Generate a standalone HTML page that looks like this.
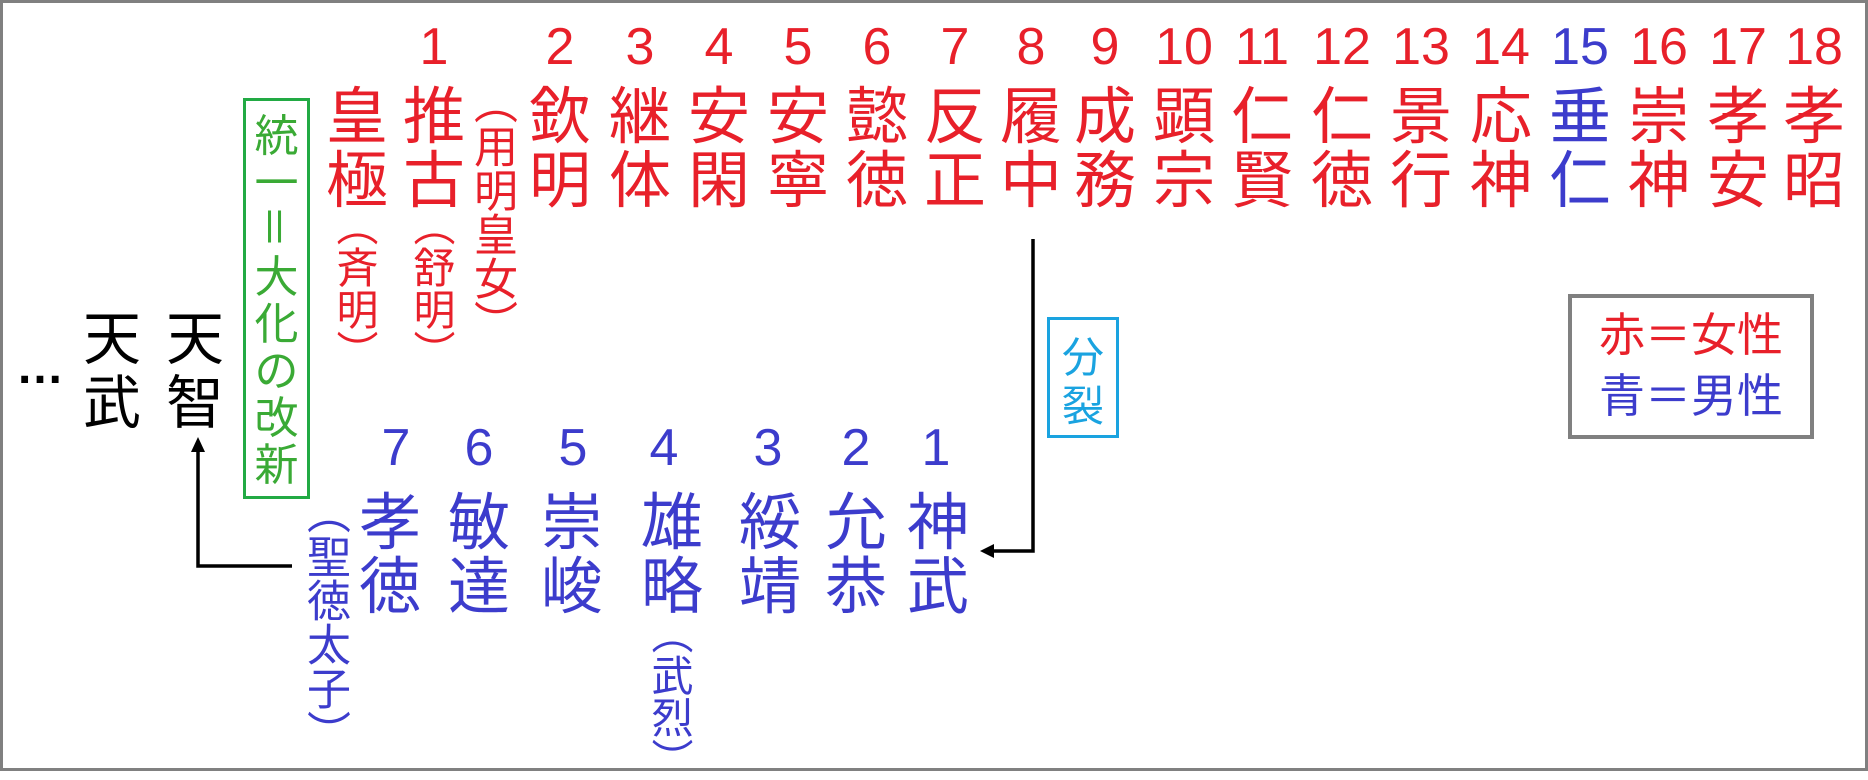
<!DOCTYPE html>
<html><head><meta charset="utf-8"><style>
body{margin:0;width:1868px;height:771px;overflow:hidden;background:#fff}
#f{position:absolute;left:0;top:0;width:1862px;height:765px;border:3px solid #808080;background:#fff}
.t{position:absolute;font-family:"Liberation Sans","Noto Sans CJK JP",sans-serif;transform:translateX(-50%);text-align:center;white-space:nowrap}
.n{font-size:52px;line-height:52px;top:21px;color:#e8202a}
.k{font-size:62px;line-height:64px;top:86px;color:#e8202a}
.b{color:#3c3ccc}
.bn{top:422px}
.bk{top:492px}
.v{writing-mode:vertical-rl;font-family:"Noto Sans CJK JP",sans-serif;line-height:1}
.blk{color:#000}
</style></head><body><div id="f"></div>

<div class="t n" style="left:434px">1</div>
<div class="t n" style="left:560px">2</div>
<div class="t n" style="left:640px">3</div>
<div class="t n" style="left:719px">4</div>
<div class="t n" style="left:798px">5</div>
<div class="t n" style="left:877px">6</div>
<div class="t n" style="left:955px">7</div>
<div class="t n" style="left:1031px">8</div>
<div class="t n" style="left:1105px">9</div>
<div class="t n" style="left:1184px">10</div>
<div class="t n" style="left:1262px">11</div>
<div class="t n" style="left:1342px">12</div>
<div class="t n" style="left:1421px">13</div>
<div class="t n" style="left:1501px">14</div>
<div class="t n b" style="left:1580px">15</div>
<div class="t n" style="left:1659px">16</div>
<div class="t n" style="left:1738px">17</div>
<div class="t n" style="left:1814px">18</div>

<div class="t k" style="left:357px">皇<br>極</div>
<div class="t k" style="left:434px">推<br>古</div>
<div class="t k" style="left:560px">欽<br>明</div>
<div class="t k" style="left:640px">継<br>体</div>
<div class="t k" style="left:719px">安<br>閑</div>
<div class="t k" style="left:798px">安<br>寧</div>
<div class="t k" style="left:877px">懿<br>徳</div>
<div class="t k" style="left:955px">反<br>正</div>
<div class="t k" style="left:1031px">履<br>中</div>
<div class="t k" style="left:1105px">成<br>務</div>
<div class="t k" style="left:1184px">顕<br>宗</div>
<div class="t k" style="left:1262px">仁<br>賢</div>
<div class="t k" style="left:1342px">仁<br>徳</div>
<div class="t k" style="left:1421px">景<br>行</div>
<div class="t k" style="left:1501px">応<br>神</div>
<div class="t k b" style="left:1580px">垂<br>仁</div>
<div class="t k" style="left:1659px">崇<br>神</div>
<div class="t k" style="left:1738px">孝<br>安</div>
<div class="t k" style="left:1814px">孝<br>昭</div>

<div class="t v" style="left:357px;top:204px;font-size:42px;color:#e8202a">（斉明）</div>
<div class="t v" style="left:434px;top:204px;font-size:42px;color:#e8202a">（舒明）</div>
<div class="t v" style="left:496px;top:80px;font-size:44px;color:#e8202a">（用明皇女）</div>
<div class="t v" style="left:329px;top:490px;font-size:44px;color:#3c3ccc">（聖徳太子）</div>
<div class="t v" style="left:672px;top:612px;font-size:42px;color:#3c3ccc">（武烈）</div>

<div style="position:absolute;left:243px;top:98px;width:61px;height:395px;border:3px solid #22aa44"></div>
<div style="position:absolute;left:243px;top:109px;width:67px;font-family:'Noto Sans CJK JP',sans-serif;font-size:44px;line-height:47px;color:#3aaa35;text-align:center">
<div>統</div><div>一</div><div style="transform:rotate(90deg)">＝</div><div>大</div><div>化</div><div>の</div><div>改</div><div>新</div></div>

<div class="t blk" style="left:40px;top:340px;font-size:48px;font-weight:bold;font-family:'Liberation Sans',sans-serif">…</div>
<div class="t blk" style="left:112px;top:302px;font-size:58px;line-height:64px;font-family:'Noto Sans CJK JP',sans-serif">天<br>武</div>
<div class="t blk" style="left:195px;top:302px;font-size:58px;line-height:64px;font-family:'Noto Sans CJK JP',sans-serif">天<br>智</div>

<div class="t n b bn" style="left:396px">7</div>
<div class="t n b bn" style="left:479px">6</div>
<div class="t n b bn" style="left:573px">5</div>
<div class="t n b bn" style="left:664px">4</div>
<div class="t n b bn" style="left:768px">3</div>
<div class="t n b bn" style="left:856px">2</div>
<div class="t n b bn" style="left:936px">1</div>
<div class="t k b bk" style="left:390px">孝<br>徳</div>
<div class="t k b bk" style="left:479px">敏<br>達</div>
<div class="t k b bk" style="left:572px">崇<br>峻</div>
<div class="t k b bk" style="left:672px">雄<br>略</div>
<div class="t k b bk" style="left:770px">綏<br>靖</div>
<div class="t k b bk" style="left:856px">允<br>恭</div>
<div class="t k b bk" style="left:938px">神<br>武</div>

<svg style="position:absolute;left:0;top:0" width="1868" height="771">
<polyline points="292,566 198,566 198,450" fill="none" stroke="#000" stroke-width="3.5"/>
<polygon points="198,437 191,452 205,452" fill="#000"/>
<polyline points="1033,239 1033,551 992,551" fill="none" stroke="#000" stroke-width="3.5"/>
<polygon points="980,551 994,544 994,558" fill="#000"/>
</svg>

<div style="position:absolute;left:1047px;top:317px;width:66px;height:115px;border:3px solid #1aa3e0"></div>
<div class="t" style="left:1083px;top:330px;font-size:42px;line-height:49px;color:#1aa3e0;font-family:'Noto Sans CJK JP',sans-serif">分<br>裂</div>

<div style="position:absolute;left:1568px;top:294px;width:238px;height:137px;border:4px solid #808080"></div>
<div class="t" style="left:1691px;top:302px;font-size:46px;line-height:61px;font-family:'Noto Sans CJK JP',sans-serif"><span style="color:#e8202a">赤＝女性</span><br><span style="color:#3c3ccc">青＝男性</span></div>
</body></html>
